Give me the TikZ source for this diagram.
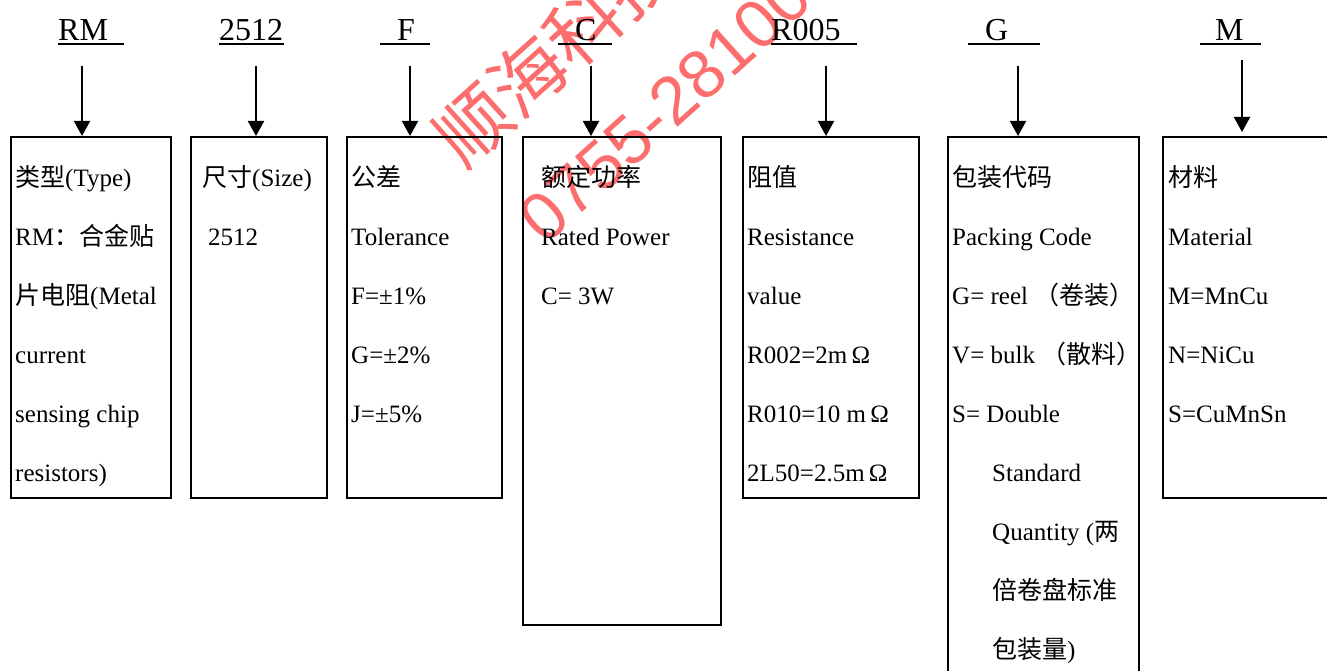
\documentclass[tikz,border=0pt]{standalone}
\usepackage{fontspec}
\setmainfont{Liberation Serif}
\newfontfamily\cjk{Noto Sans CJK SC}
\newfontfamily\wmsans{Liberation Sans}
\usetikzlibrary{arrows.meta,positioning}
\definecolor{wmred}{RGB}{252,110,110}
\newcommand{\zhtxt}[1]{{\cjk #1}}
\tikzset{
  codelabel/.style={inner sep=0pt, anchor=base west, font=\fontsize{32}{36}\selectfont},
  uline/.style={line width=2pt},
  arr/.style={-{Triangle[length=15pt,width=16pt]}, line width=2pt},
  spec/.style={rectangle, draw, line width=2pt, inner sep=0pt, anchor=north west},
  desc/.style={inner sep=0pt, align=left, font=\fontsize{25}{59}\selectfont},
  wmark/.style={inner sep=0pt, text=wmred, rotate=42, anchor=west}
}

\begin{document}
\begin{tikzpicture}[x=1pt, y=-1pt]
\clip (0,0) rectangle (1327,671);
% watermark
\node[wmark, font=\cjk\fontsize{74}{80}\selectfont] (wm1) at (446,150) {顺海科技};
\node[wmark, font=\wmsans\fontsize{68}{80}\selectfont] (wm2) at (530,229) {0755-28100};
% part number codes
\node[codelabel] (rm) at (58,41) {RM};
\node[codelabel] (size) at (219,41) {2512};
\node[codelabel] (tol) at (397,41) {F};
\node[codelabel] (pow) at (575,41) {C};
\node[codelabel] (res) at (771,41) {R005};
\node[codelabel] (pack) at (985,41) {G};
\node[codelabel] (mat) at (1215,41) {M};
\draw[uline] (58,44.5) -- (124,44.5);
\draw[uline] (219,44.5) -- (284,44.5);
\draw[uline] (380,44.5) -- (430,44.5);
\draw[uline] (558,44.5) -- (612,44.5);
\draw[uline] (771,44.5) -- (857,44.5);
\draw[uline] (968,44.5) -- (1040,44.5);
\draw[uline] (1200,44.5) -- (1261,44.5);
% boxes
\node[spec, minimum width=160pt, minimum height=361pt] (b1) at (10,136) {};
\node[spec, minimum width=136pt, minimum height=361pt] (b2) at (190,136) {};
\node[spec, minimum width=155pt, minimum height=361pt] (b3) at (346,136) {};
\node[spec, minimum width=198pt, minimum height=488pt] (b4) at (522,136) {};
\node[spec, minimum width=176pt, minimum height=361pt] (b5) at (742,136) {};
\node[spec, minimum width=191pt, minimum height=570pt] (b6) at (947,136) {};
\node[spec, minimum width=180pt, minimum height=361pt] (b7) at (1162,136) {};
% box texts
\node[desc, below right=8.7pt and 5pt of b1.north west] (t1) {\strut\zhtxt{类型}(Type)\\RM\zhtxt{：合金贴}\\\zhtxt{片电阻}(Metal\\current\\sensing chip\\resistors)};
\node[desc, below right=8.7pt and 12pt of b2.north west] (t2) {\strut\zhtxt{尺寸}(Size)\\\hspace*{6pt}2512};
\node[desc, below right=8.7pt and 5pt of b3.north west] (t3) {\strut\zhtxt{公差}\\Tolerance\\F=±1\%\\G=±2\%\\J=±5\%};
\node[desc, below right=8.7pt and 19pt of b4.north west] (t4) {\strut\zhtxt{额定功率}\\Rated Power\\C= 3W};
\node[desc, below right=8.7pt and 5pt of b5.north west] (t5) {\strut\zhtxt{阻值}\\Resistance\\value\\R002=2m\,Ω\\R010=10 m\,Ω\\2L50=2.5m\,Ω};
\node[desc, below right=8.7pt and 5pt of b6.north west] (t6) {\strut\zhtxt{包装代码}\\Packing Code\\G= reel \zhtxt{（卷装）}\\V= bulk \zhtxt{（散料）}\\S= Double\\\hspace*{40pt}Standard\\\hspace*{40pt}Quantity (\zhtxt{两}\\\hspace*{40pt}\zhtxt{倍卷盘标准}\\\hspace*{40pt}\zhtxt{包装量})};
\node[desc, below right=8.7pt and 6pt of b7.north west] (t7) {\strut\zhtxt{材料}\\Material\\M=MnCu\\N=NiCu\\S=CuMnSn};
% arrows
\coordinate (rm-s) at (82,66);
\coordinate (size-s) at (256,66);
\coordinate (tol-s) at (410,66);
\coordinate (pow-s) at (591,66);
\coordinate (res-s) at (826,66);
\coordinate (pack-s) at (1018,66);
\coordinate (mat-s) at (1242,60);
\draw[arr] (rm-s) -- (rm-s |- b1.north);
\draw[arr] (size-s) -- (size-s |- b2.north);
\draw[arr] (tol-s) -- (tol-s |- b3.north);
\draw[arr] (pow-s) -- (pow-s |- b4.north);
\draw[arr] (res-s) -- (res-s |- b5.north);
\draw[arr] (pack-s) -- (pack-s |- b6.north);
\draw[arr, shorten >=4pt] (mat-s) -- (mat-s |- b7.north);
\end{tikzpicture}
\end{document}
